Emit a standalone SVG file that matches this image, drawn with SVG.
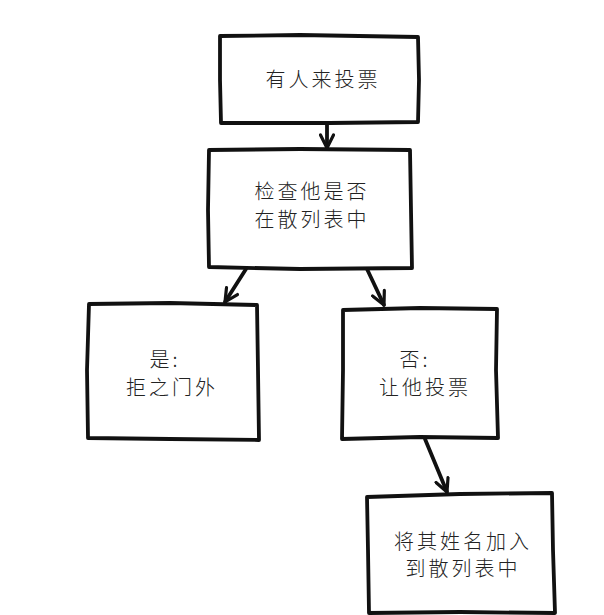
<svg xmlns="http://www.w3.org/2000/svg" width="604" height="615" viewBox="0 0 604 615">
<defs>
<style>
.box{fill:#fff;stroke:#111;stroke-width:3.8;stroke-linejoin:round;stroke-linecap:round}
.edge{fill:none;stroke:#111;stroke-width:3.8;stroke-linecap:round}
.lbl{font-family:"Noto Sans CJK SC","Noto Sans CJK JP",sans-serif;font-size:20px;font-weight:300;fill:#222;text-anchor:middle;letter-spacing:3px}
</style>
<marker id="arr" viewBox="0 0 16 16" refX="15" refY="8" markerWidth="16" markerHeight="16" markerUnits="userSpaceOnUse" orient="auto">
<path d="M2,1.5 L15,8 L2,14.5" fill="none" stroke="#111" stroke-width="3.2" stroke-linecap="round" stroke-linejoin="round"/>
</marker>
</defs>
<rect width="604" height="615" fill="#fff"/>
<g id="edges">
<path class="edge" d="M327,124 L327,148" marker-end="url(#arr)"/>
<path class="edge" d="M246,269 L225,302" marker-end="url(#arr)"/>
<path class="edge" d="M367,269 L384,305" marker-end="url(#arr)"/>
<path class="edge" d="M425,439 L447,492" marker-end="url(#arr)"/>
</g>
<g id="n1">
<path class="box" d="M220,36 L300,35 L418,37 L419,80 L418,122 L330,123 L221,123 L220,80 Z"/>
<text class="lbl" x="323" y="87">有人来投票</text>
</g>
<g id="n2">
<path class="box" d="M209,150 L300,149 L410,150 L411,210 L412,268 L300,269 L209,267 L208,210 Z"/>
<text class="lbl" x="312" y="199">检查他是否</text>
<text class="lbl" x="312" y="227">在散列表中</text>
</g>
<g id="n3">
<path class="box" d="M89,304 L170,303 L257,305 L258,370 L259,440 L170,439 L88,438 L87,370 Z"/>
<text class="lbl" x="165" y="367">是:</text>
<text class="lbl" x="172" y="395">拒之门外</text>
</g>
<g id="n4">
<path class="box" d="M343,310 L420,308 L497,309 L496,370 L498,438 L420,437 L342,439 L343,370 Z"/>
<text class="lbl" x="415" y="367">否:</text>
<text class="lbl" x="425" y="395">让他投票</text>
</g>
<g id="n5">
<path class="box" d="M367,497 L460,494 L552,493 L553,550 L555,613 L460,612 L369,613 L368,550 Z"/>
<text class="lbl" x="463" y="549">将其姓名加入</text>
<text class="lbl" x="463" y="576">到散列表中</text>
</g>
</svg>
